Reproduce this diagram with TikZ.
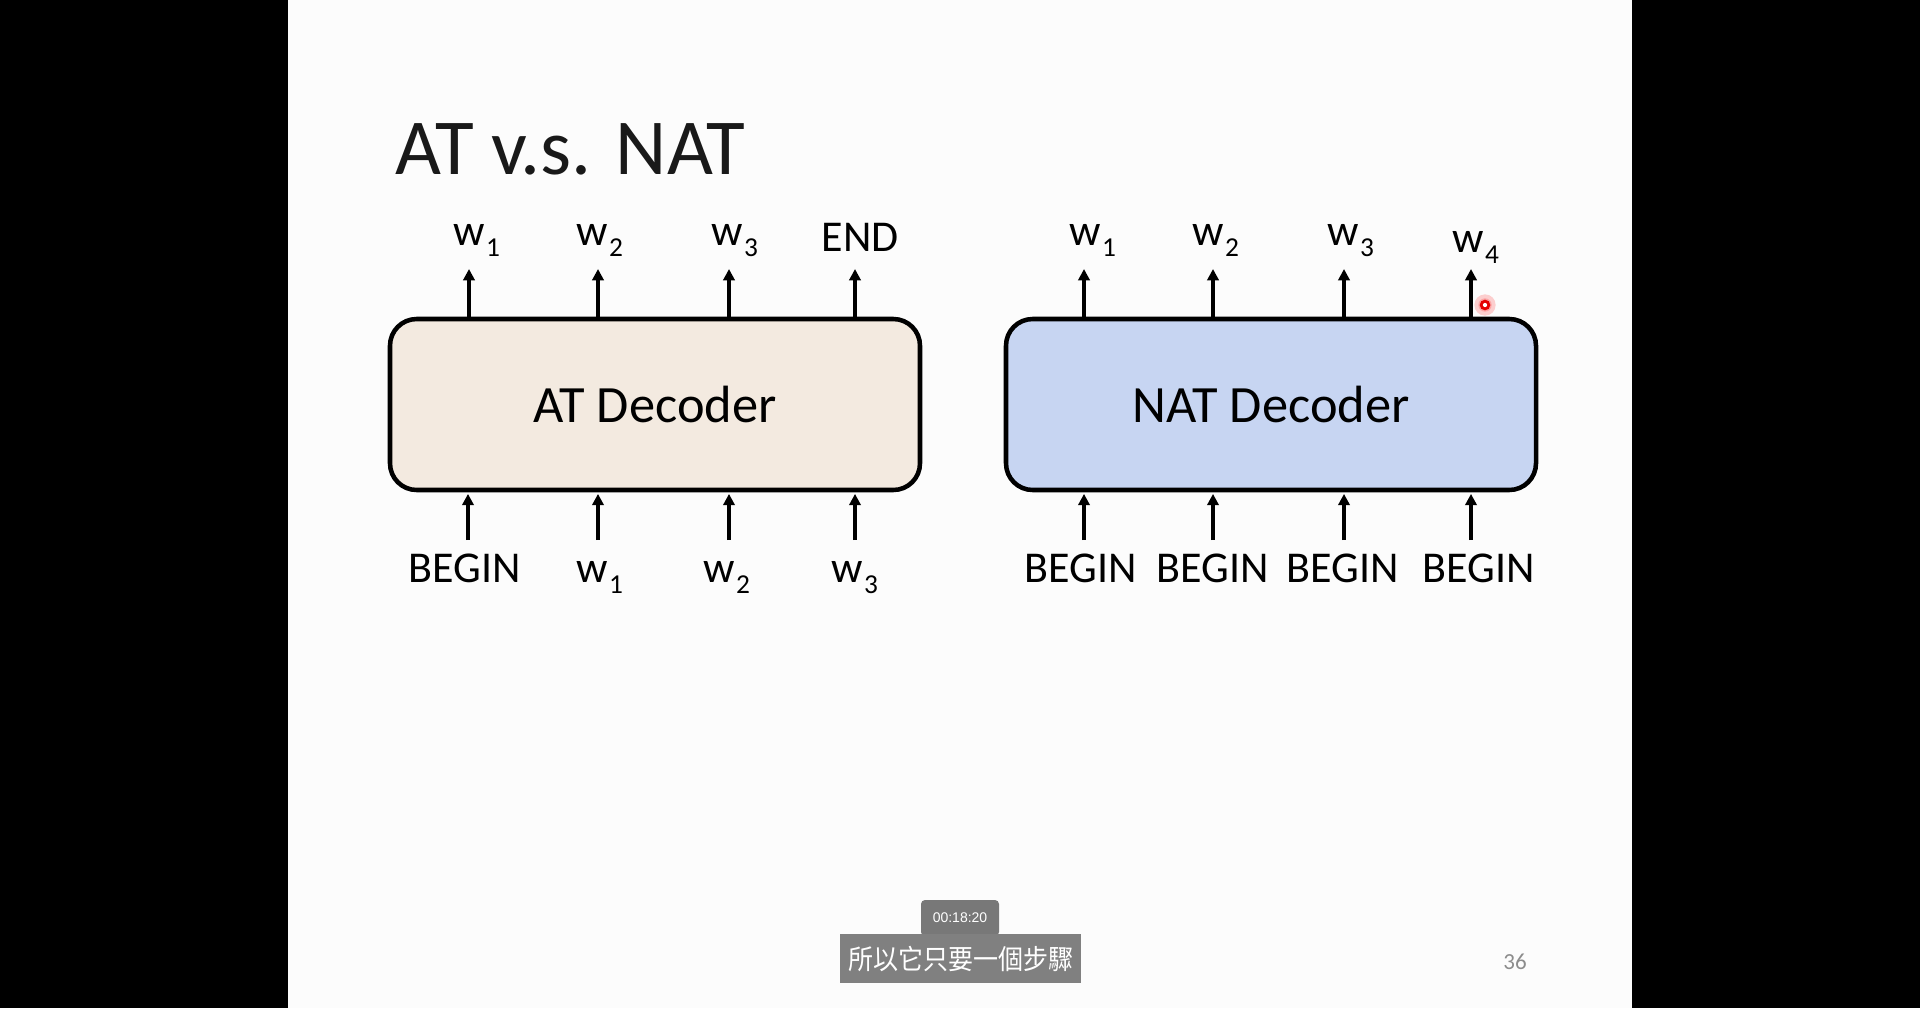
\documentclass[tikz,border=0pt]{standalone}
\usepackage{fontspec}
\setmainfont{Carlito}
\newfontfamily\cjkfont{Noto Sans CJK TC}
\newfontfamily\tsfont{Liberation Sans}
\usetikzlibrary{arrows.meta,calc}
\definecolor{slidebg}{RGB}{252,252,252}
\definecolor{atfill}{RGB}{243,234,224}
\definecolor{natfill}{RGB}{199,213,242}
\definecolor{subgray}{RGB}{128,128,128}
\definecolor{tsgray}{RGB}{120,120,120}
\definecolor{pagegray}{RGB}{140,140,140}
\newcommand{\wsub}[1]{w\kern0.6pt\raisebox{-0.26em}{\fontsize{20.5pt}{20.5pt}\selectfont #1}}
\tikzset{
  decbox/.style={draw=black, line width=3.4pt, rounded corners=20pt,
    minimum width=397.5pt, minimum height=128.25pt, inner sep=0pt,
    font=\fontsize{39.3pt}{39.3pt}\selectfont},
  arr/.style={line width=2.3pt, -{Triangle[length=8.5pt,width=8.5pt]}},
  lbl/.style={inner sep=0pt, anchor=base, font=\fontsize{33pt}{33pt}\selectfont},
}
\begin{document}
\begin{tikzpicture}[x=0.75pt,y=-0.75pt]
\useasboundingbox (0,0) rectangle (1920,1008);
\fill[black] (0,0) rectangle (288,1008);
\fill[black] (1632,0) rectangle (1920,1008);
\fill[slidebg] (288,0) rectangle (1632,1008);

% title
\node[inner sep=0pt, anchor=base west, font=\fontsize{59.5pt}{59.5pt}\selectfont, text=black!90] (title) at (395,174) {AT v.s. NAT};

% decoder boxes
\node[decbox, fill=atfill] (atbox) at (655,404.5) {AT Decoder};
\node[decbox, fill=natfill] (natbox) at (1271,404.5) {NAT Decoder};

% AT top
\coordinate (at1t) at (469,269);
\coordinate (at2t) at (598,269);
\coordinate (at3t) at (729,269);
\coordinate (at4t) at (855,269);
\foreach \c in {at1t,at2t,at3t,at4t} \draw[arr] (atbox.north -| \c) -- (\c);
\node[lbl] (atow1) at (477,245) {\wsub{1}};
\node[lbl] (atow2) at (600,245) {\wsub{2}};
\node[lbl] (atow3) at (735,245) {\wsub{3}};
\node[lbl] (atoend) at (860,251) {END};

% AT bottom
\coordinate (at1b) at (468,540);
\coordinate (at2b) at (598,540);
\coordinate (at3b) at (729,540);
\coordinate (at4b) at (855,540);
\foreach \c in {at1b,at2b,at3b,at4b} \draw[arr, shorten >=1.2pt] (\c) -- (atbox.south -| \c);
\node[lbl] (atibegin) at (465,582) {BEGIN};
\node[lbl] (atiw1) at (600,582) {\wsub{1}};
\node[lbl] (atiw2) at (727,582) {\wsub{2}};
\node[lbl] (atiw3) at (855,582) {\wsub{3}};

% NAT top
\coordinate (nt1t) at (1084,269);
\coordinate (nt2t) at (1213,269);
\coordinate (nt3t) at (1344,269);
\coordinate (nt4t) at (1471,269);
\foreach \c in {nt1t,nt2t,nt3t,nt4t} \draw[arr] (natbox.north -| \c) -- (\c);
\node[lbl] (ntow1) at (1093,245) {\wsub{1}};
\node[lbl] (ntow2) at (1216,245) {\wsub{2}};
\node[lbl] (ntow3) at (1351,245) {\wsub{3}};
\node[lbl] (ntow4) at (1476,252) {\wsub{4}};

% NAT bottom
\coordinate (nt1b) at (1084,540);
\coordinate (nt2b) at (1213,540);
\coordinate (nt3b) at (1344,540);
\coordinate (nt4b) at (1471,540);
\foreach \c in {nt1b,nt2b,nt3b,nt4b} \draw[arr, shorten >=1.2pt] (\c) -- (natbox.south -| \c);
\node[lbl] (ntib1) at (1081,582) {BEGIN};
\node[lbl] (ntib2) at (1213,582) {BEGIN};
\node[lbl] (ntib3) at (1343,582) {BEGIN};
\node[lbl] (ntib4) at (1479,582) {BEGIN};

% cursor
\fill[red, opacity=0.18] (1485,305) circle (8pt);
\fill[red, opacity=0.2] (1485,305) circle (5pt);
\fill[red!90!black] (1485,305) circle (4pt);
\fill[white] (1485,305) circle (1.6pt);

% page number
\node[inner sep=0pt, text=pagegray, font=\fontsize{17.25pt}{17.25pt}\selectfont] (pageno) at (1515,962) {36};

% subtitle and timestamp
\fill[tsgray, rounded corners=3pt] (921,900) rectangle (999,936);
\node[inner sep=0pt, text=white, font=\tsfont\fontsize{10.5pt}{10.5pt}\selectfont] (ts) at (960,918) {00:18:20};
\node[fill=subgray, inner sep=0pt, minimum width=181pt, minimum height=36.75pt, text=white,
  font=\cjkfont\fontsize{18.75pt}{18.75pt}\selectfont] (sub) at (960.5,958.5) {\scalebox{1}[1.1]{所以它只要一個步驟}};
\end{tikzpicture}
\end{document}
